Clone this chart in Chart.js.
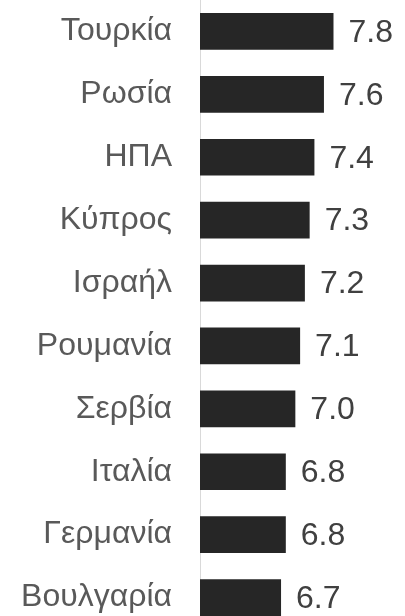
<!DOCTYPE html>
<html>
<head>
<meta charset="utf-8">
<script src="https://cdn.jsdelivr.net/npm/chart.js@4/dist/chart.umd.min.js"></script>
<style>
  html, body { margin: 0; padding: 0; background: #ffffff; overflow: hidden; }
  #wrap { width: 405px; height: 629px; }
</style>
</head>
<body>
<div id="wrap"><canvas id="chart" width="405" height="629"></canvas></div>
<script>
// Countries, top to bottom
const countries = ['Τουρκία', 'Ρωσία', 'ΗΠΑ', 'Κύπρος', 'Ισραήλ', 'Ρουμανία', 'Σερβία', 'Ιταλία', 'Γερμανία', 'Βουλγαρία'];
// Score per country
const scores = [7.8, 7.6, 7.4, 7.3, 7.2, 7.1, 7.0, 6.8, 6.8, 6.7];
// Value axis range
const axisMin = 5;
const axisMax = 9.3;

const FONT = '"Liberation Sans", Arial, sans-serif';

// Writes each bar's value just past its end
const valueLabels = {
  id: 'valueLabels',
  afterDatasetsDraw(chart) {
    const ctx = chart.ctx;
    const meta = chart.getDatasetMeta(0);
    ctx.save();
    ctx.font = '32px ' + FONT;
    ctx.fillStyle = '#404040';
    ctx.textAlign = 'left';
    ctx.textBaseline = 'middle';
    meta.data.forEach((bar, i) => {
      ctx.fillText(scores[i].toFixed(1), bar.x + 15, bar.y + 1.5);
    });
    ctx.restore();
  }
};

new Chart(document.getElementById('chart'), {
  type: 'bar',
  data: {
    labels: countries,
    datasets: [{
      data: scores,
      backgroundColor: '#262626',
      borderWidth: 0,
      categoryPercentage: 1,
      barPercentage: 0.583
    }]
  },
  options: {
    indexAxis: 'y',
    responsive: false,
    animation: false,
    layout: { padding: 0 },
    plugins: {
      legend: { display: false },
      tooltip: { enabled: false }
    },
    scales: {
      x: {
        display: false,
        min: axisMin,
        max: axisMax
      },
      y: {
        grid: { display: false, drawTicks: false },
        border: { display: true, color: '#d9d9d9', width: 1 },
        ticks: {
          color: '#595959',
          font: { family: FONT, size: 32 },
          padding: 28
        },
        afterFit(scale) {
          // fixed label column; bands run the full canvas height
          scale.width = 200;
          scale.paddingTop = 0;
          scale.paddingBottom = 0;
        }
      }
    }
  },
  plugins: [valueLabels]
});
</script>
</body>
</html>
